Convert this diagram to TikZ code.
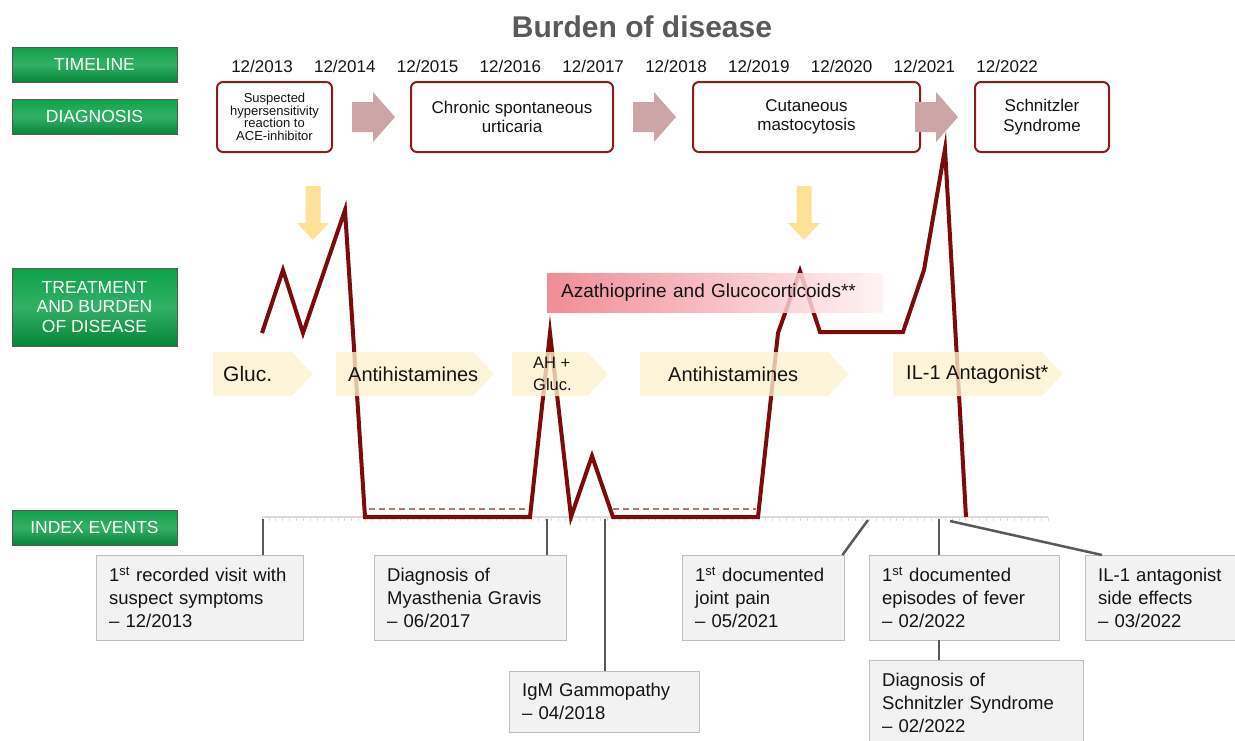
\documentclass[tikz,border=0pt]{standalone}
\usepackage{fontspec}
\setmainfont{Liberation Sans}
\usetikzlibrary{positioning}
\usetikzlibrary{calc}
\definecolor{labelgreen}{RGB}{14,162,74}
\definecolor{labelgreendark}{RGB}{6,132,56}
\definecolor{boxred}{RGB}{142,28,28}
\definecolor{curvered}{RGB}{122,12,12}
\definecolor{arrowpink}{RGB}{204,166,166}
\definecolor{arrowyellow}{RGB}{252,226,150}
\definecolor{chevfill}{RGB}{253,242,208}
\definecolor{azapink}{RGB}{239,120,132}
\definecolor{titlegray}{RGB}{89,89,89}
\definecolor{eventfill}{RGB}{242,242,242}
\definecolor{eventedge}{RGB}{191,191,191}
\definecolor{linkgray}{RGB}{89,89,89}
\definecolor{axisgray}{RGB}{220,220,220}
\definecolor{dashred}{RGB}{200,110,110}
\definecolor{textdark}{RGB}{20,20,20}

\begin{document}
\begin{tikzpicture}[x=1pt,y=-1pt,
  greenlabel/.style={draw=gray!70!black,top color=labelgreen,bottom color=labelgreendark,
    middle color=labelgreen!85!white,text=white,minimum width=165pt,minimum height=35pt,
    align=center,inner sep=0pt,font=\fontsize{17.5}{19.5}\selectfont},
  yearlabel/.style={text=textdark,inner sep=0pt,font=\fontsize{17}{20}\selectfont},
  diagbox/.style={draw=boxred,line width=2pt,rounded corners=6pt,minimum height=70pt,
    align=center,text=textdark,font=\fontsize{17}{19.5}\selectfont},
  bigarrow/.style={fill=arrowpink},
  downarrow/.style={fill=arrowyellow},
  chevron/.style={fill=chevfill,fill opacity=0.78},
  treatlabel/.style={anchor=west,inner sep=0pt,text=textdark,align=left,
    font=\fontsize{20}{22}\selectfont},
  azabar/.style={anchor=north west,left color=azapink,right color=azapink!10!white,
    fill opacity=0.85,text opacity=1,minimum height=39pt,inner xsep=14pt,
    text width=308pt,align=left,text=textdark,font=\fontsize{19}{22}\selectfont},
  burden/.style={draw=curvered,line width=4pt,miter limit=25},
  axisline/.style={draw=axisgray,line width=1.5pt},
  tickmark/.style={draw=axisgray,line width=0.8pt},
  dashline/.style={draw=dashred,line width=1.5pt,dash pattern=on 6pt off 4pt},
  link/.style={draw=linkgray,line width=2.5pt},
  eventbox/.style={anchor=north west,draw=eventedge,fill=eventfill,minimum height=85pt,
    inner xsep=13pt,text width=#1,align=left,text=textdark,
    font=\fontsize{18.5}{23}\selectfont}
  ]
  \useasboundingbox (0,0) rectangle (1235,740);

  \node (title) [text=titlegray,font=\fontsize{30}{34}\bfseries] at (642,27) {Burden of disease};

  \node (timeline)  [greenlabel] at (94.5,64.5) {TIMELINE};
  \node (diagnosis) [greenlabel] at (94.5,116.5) {DIAGNOSIS};
  \node (treatment) [greenlabel,minimum height=78pt] at (94.5,307) {TREATMENT\\AND BURDEN\\OF DISEASE};
  \node (index)     [greenlabel] at (94.5,527.5) {INDEX EVENTS};

  \foreach \yr [count=\i from 0] in {2013,...,2022}
    \node (y\yr) [yearlabel] at ({262+82.8*\i},66) {12/\yr};

  \node (ace)         [diagbox,minimum width=115pt,font=\fontsize{13}{12.5}\selectfont] at (274.5,117) {Suspected\\hypersensitivity\\reaction to\\ACE-inhibitor};
  \node (urticaria)   [diagbox,minimum width=202pt] at (512,117) {Chronic spontaneous\\urticaria};
  \node (mastocytosis)[diagbox,minimum width=227pt] at (806.5,117) {Cutaneous\\mastocytosis};
  \node (schnitzler)  [diagbox,minimum width=134pt] at (1042,117) {Schnitzler\\Syndrome};

  \foreach \x in {352,633,915}
    \fill[bigarrow] (\x,102) -- ({\x+21},102) -- ({\x+21},92) -- ({\x+43},117)
      -- ({\x+21},142) -- ({\x+21},132) -- (\x,132) -- cycle;
  \foreach \x in {313,804}
    \fill[downarrow] ({\x-7.5},186) -- ({\x+7.5},186) -- ({\x+7.5},223) -- ({\x+16},223)
      -- (\x,240) -- ({\x-16},223) -- ({\x-7.5},223) -- cycle;

  \draw[axisline] (262,517) -- (1048,517);
  \foreach \i in {0,...,114}
    \draw[tickmark] ({262+\i*6.9},517) -- ++(0,4);
  \draw[dashline] (369,509) -- (527,509);
  \draw[dashline] (613,509) -- (756,509);

  \draw[burden] (262,333) -- (283,270) -- (303,333) -- (345,210) -- (365,517) -- (530,517)
    -- (550,333) -- (571,517) -- (592,456) -- (613,517) -- (758,517) -- (778,333)
    -- (800,271) -- (820,332) -- (903,332) -- (924,270) -- (945,149) -- (966,517);

  \foreach \l/\r in {213/292,336/473,512/587,640/828,893/1042}
    \fill[chevron] (\l,352) -- (\r,352) -- ({\r+21},374) -- (\r,396) -- (\l,396) -- cycle;

  \node (aza) [azabar] at (547,273) {Azathioprine and Glucocorticoids**};

  \node (gluc)  [treatlabel,font=\fontsize{21}{22}\selectfont] at (223,374) {Gluc.};
  \node (ah)    [treatlabel] at (348,374) {Antihistamines};
  \node (ahgl)  [treatlabel,font=\fontsize{16.5}{22}\selectfont] at (533,374) {AH +\\Gluc.};
  \node (ahtwo) [treatlabel] at (668,374) {Antihistamines};
  \node (ilone) [treatlabel] at (906,374) {IL-1 Antagonist*};

  \node (ev1)  [eventbox=181pt] at (96,555) {1\textsuperscript{st} recorded visit with\\suspect symptoms\\\textendash{} 12/2013};
  \node (ev2)  [eventbox=166pt] at (374,555) {Diagnosis of\\Myasthenia Gravis\\\textendash{} 06/2017};
  \node (igm)  [eventbox=164pt,minimum height=61pt] at (509,671) {IgM Gammopathy\\\textendash{} 04/2018};
  \node (ev4)  [eventbox=136pt] at (682,555) {1\textsuperscript{st} documented\\joint pain\\\textendash{} 05/2021};
  \node (ev5)  [eventbox=164pt] at (869,555) {1\textsuperscript{st} documented\\episodes of fever\\\textendash{} 02/2022};
  \node (schn) [eventbox=188pt,below=20pt of ev5.south west,anchor=north west] {Diagnosis of\\Schnitzler Syndrome\\\textendash{} 02/2022};
  \node (ev7)  [eventbox=139pt] at (1085,555) {IL-1 antagonist\\side effects\\\textendash{} 03/2022};

  \coordinate (e1) at (263,519);
  \coordinate (e2) at (547,519);
  \coordinate (e3) at (605,519);
  \coordinate (e4) at (868,520);
  \coordinate (e5) at (939,519);
  \coordinate (e6) at (950,521);
  \draw[link] (e1) -- (e1 |- ev1.north);
  \draw[link] (e2) -- (e2 |- ev2.north);
  \draw[link] (e3) -- (e3 |- igm.north);
  \draw[link] (e4) -- ([xshift=-2pt]ev4.north east);
  \draw[link] (e5) -- (e5 |- ev5.north);
  \draw[link] (e5 |- ev5.south) -- (e5 |- schn.north);
  \draw[link] (e6) -- ([xshift=17pt]ev7.north west);
\end{tikzpicture}
\end{document}
